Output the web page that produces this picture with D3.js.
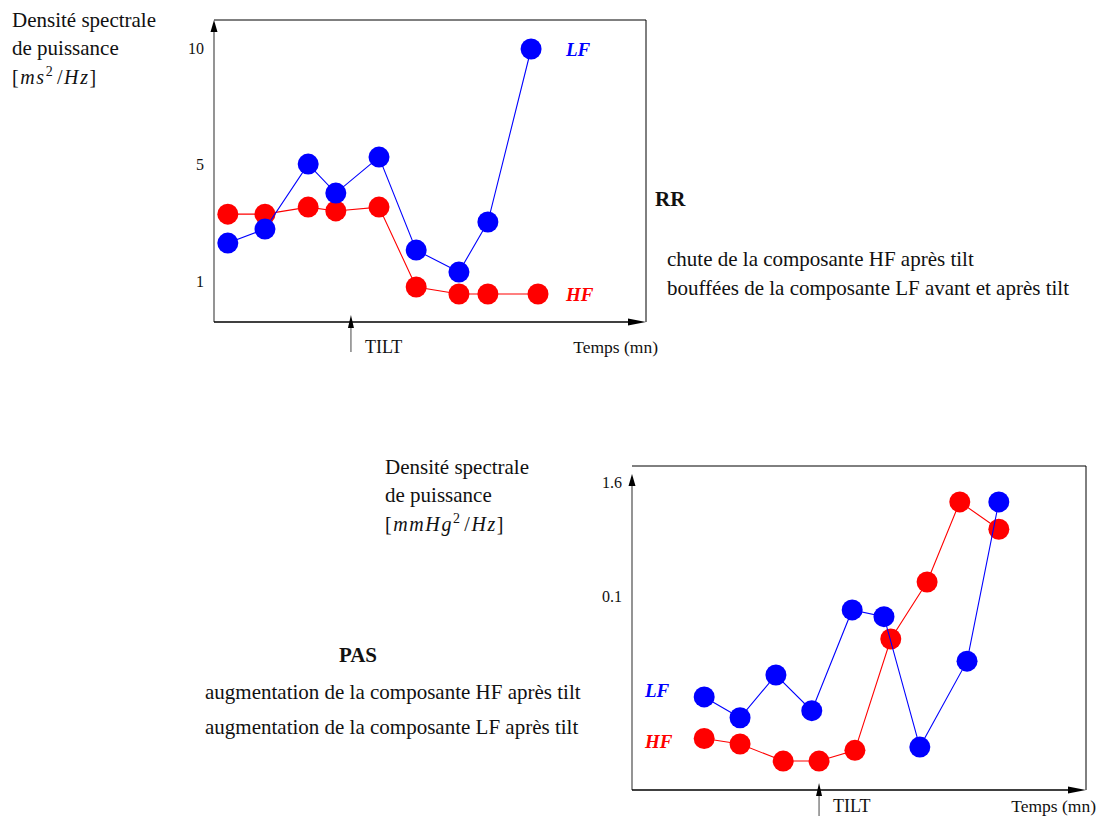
<!DOCTYPE html>
<meta charset="utf-8">
<html>
<head>
<title>Densite spectrale RR / PAS</title>
<script src="https://cdn.jsdelivr.net/npm/d3@7/dist/d3.min.js"></script>
<style>
body { margin: 0; background: #fff; }
svg text { font-family: "Liberation Serif", "DejaVu Serif", serif; fill: #111; }
</style>
</head>
<body>
<div id="chart"></div>
<script>
// RR panel (top)
var rrTimeLF = [3.2, 11.8, 21.8, 28.2, 38.2, 46.8, 56.7, 63.4, 73.4];
var rrLF     = [2.33, 2.81, 5.04, 4.04, 5.34, 2.09, 1.34, 3.05, 10];
var rrTimeHF = [3.2, 11.8, 21.8, 28.2, 38.2, 46.8, 56.7, 63.4, 75.0];
var rrHF     = [3.32, 3.32, 3.56, 3.43, 3.56, 0.83, 0.59, 0.59, 0.59];
var rrTicks  = [1, 5, 10];
var rrTilt   = 31.7;

// PAS panel (bottom)
var pasTimeLF = [15.9, 23.8, 31.7, 39.6, 48.5, 55.5, 63.4, 73.8, 80.8];
var pasLF     = [0.0088, 0.0053, 0.0150, 0.0063, 0.073, 0.062, 0.0026, 0.021, 1.01];
var pasTimeHF = [15.9, 23.8, 33.3, 41.2, 49.1, 57.0, 65.0, 72.2, 80.8];
var pasHF     = [0.0032, 0.0028, 0.00185, 0.00185, 0.0024, 0.036, 0.144, 1.01, 0.52];
var pasTicks  = [0.1, 1.6];
var pasTilt   = 41.2;

var svg = d3.select("#chart").append("svg")
    .attr("width", 1099).attr("height", 816);

var BLUE = "#0000ff", RED = "#ff0000";

function zip(t, v) { return t.map(function (d, i) { return {t: d, v: v[i]}; }); }

function panel(cfg) {
  var g = svg.append("g");
  var x = d3.scaleLinear().domain([0, 100]).range([cfg.left, cfg.right]);
  var y = cfg.y;

  // frame
  g.append("path")
    .attr("d", "M" + cfg.left + "," + cfg.top + "H" + cfg.right + "V" + cfg.bottom)
    .attr("fill", "none").attr("stroke", "#000").attr("stroke-width", 1);
  // axes
  g.append("line").attr("x1", cfg.left).attr("x2", cfg.left)
    .attr("y1", cfg.bottom).attr("y2", cfg.arrowTop + 8)
    .attr("stroke", "#666").attr("stroke-width", 1.4);
  g.append("line").attr("x1", cfg.left).attr("x2", cfg.right - 8)
    .attr("y1", cfg.bottom).attr("y2", cfg.bottom)
    .attr("stroke", "#000").attr("stroke-width", 1.4);
  g.append("path")
    .attr("d", "M" + cfg.left + "," + cfg.arrowTop + "l-3.5,12h7z").attr("fill", "#000");
  g.append("path")
    .attr("d", "M" + cfg.right + "," + cfg.bottom + "l-18,-3.5v7z").attr("fill", "#000");

  // tick labels
  g.selectAll(".tick").data(cfg.ticks).enter().append("text")
    .attr("x", cfg.left - 10).attr("y", function (d) { return y(d) + 5; })
    .attr("text-anchor", "end").style("font-size", "16px")
    .text(function (d) { return d; });

  // tilt arrow
  var tx = x(cfg.tilt);
  g.append("line").attr("x1", tx).attr("x2", tx)
    .attr("y1", cfg.bottom + cfg.arrowLen).attr("y2", cfg.bottom + 4)
    .attr("stroke", "#666").attr("stroke-width", 1.2);
  g.append("path").attr("d", "M" + tx + "," + (cfg.bottom - 7) + "l-3,13h6z").attr("fill", "#000");
  g.append("text").attr("x", tx + 14).attr("y", cfg.bottom + cfg.textDy)
    .style("font-size", "18px").text("TILT");
  g.append("text").attr("x", cfg.right + cfg.tempsDx).attr("y", cfg.bottom + cfg.textDy)
    .attr("text-anchor", "end").style("font-size", "17.5px").text("Temps (mn)");

  var line = d3.line().x(function (d) { return x(d.t); }).y(function (d) { return y(d.v); });
  var series = {
    LF: {data: zip(cfg.tLF, cfg.LF), color: BLUE},
    HF: {data: zip(cfg.tHF, cfg.HF), color: RED}
  };
  cfg.order.forEach(function (o) {
    var s = series[o.s];
    if (o.kind === "line") {
      g.append("path").datum(s.data).attr("d", line)
        .attr("fill", "none").attr("stroke", s.color).attr("stroke-width", 1.1);
    } else {
      g.selectAll(null).data(s.data).enter().append("circle")
        .attr("cx", function (d) { return x(d.t); })
        .attr("cy", function (d) { return y(d.v); })
        .attr("r", 10.5).attr("fill", s.color);
    }
  });

  cfg.labels.forEach(function (l) {
    g.append("text").attr("x", l.x).attr("y", l.y)
      .style("font-size", "19px").style("font-weight", "bold").style("font-style", "italic")
      .style("fill", l.s === "LF" ? BLUE : RED).text(l.s);
  });
  return g;
}

panel({
  left: 214, right: 646, top: 20, bottom: 322, arrowTop: 20,
  arrowLen: 30, textDy: 31, tempsDx: 12,
  y: d3.scaleLinear().domain([1, 5, 10]).range([282, 165, 49]),
  ticks: rrTicks, tilt: rrTilt,
  tLF: rrTimeLF, LF: rrLF, tHF: rrTimeHF, HF: rrHF,
  order: [{s: "HF", kind: "line"}, {s: "HF", kind: "dot"}, {s: "LF", kind: "line"}, {s: "LF", kind: "dot"}],
  labels: [{s: "LF", x: 566, y: 56}, {s: "HF", x: 566, y: 301}]
});

panel({
  left: 632, right: 1086, top: 466, bottom: 790, arrowTop: 474,
  arrowLen: 30, textDy: 22, tempsDx: 10,
  y: d3.scaleLog().domain([0.1, 1.6]).range([597, 483]),
  ticks: pasTicks, tilt: pasTilt,
  tLF: pasTimeLF, LF: pasLF, tHF: pasTimeHF, HF: pasHF,
  order: [{s: "LF", kind: "dot"}, {s: "HF", kind: "line"}, {s: "HF", kind: "dot"}, {s: "LF", kind: "line"}],
  labels: [{s: "LF", x: 645, y: 697}, {s: "HF", x: 645, y: 748}]
});

// y-axis titles
function yTitle(x0, y0, unit) {
  var t = svg.append("g").style("font-size", "21px");
  t.append("text").attr("x", x0).attr("y", y0).text("Densité spectrale");
  t.append("text").attr("x", x0).attr("y", y0 + 28).text("de puissance");
  var m = t.append("text").attr("x", x0).attr("y", y0 + 57)
    .style("font-size", "20px").style("letter-spacing", "1.6px");
  m.append("tspan").text("[");
  unit.forEach(function (u) {
    if (u.sup) {
      m.append("tspan").attr("dy", -8).style("font-size", "14px").text(u.sup);
      m.append("tspan").attr("dy", 8).text(" ").style("font-size", "4px");
    } else {
      m.append("tspan").style("font-style", u.it ? "italic" : "normal").text(u.txt);
    }
  });
  m.append("tspan").text("]");
}
yTitle(12, 27, [{txt: "ms", it: true}, {sup: "2"}, {txt: "/", it: false}, {txt: "Hz", it: true}]);
yTitle(385, 474, [{txt: "mmHg", it: true}, {sup: "2"}, {txt: "/", it: false}, {txt: "Hz", it: true}]);

// comments
svg.append("text").attr("x", 655).attr("y", 206)
  .style("font-size", "21px").style("font-weight", "bold").text("RR");
svg.append("text").attr("x", 667).attr("y", 266).style("font-size", "21px")
  .text("chute de la composante HF après tilt");
svg.append("text").attr("x", 667).attr("y", 295).style("font-size", "21px")
  .text("bouffées de la composante LF avant et après tilt");

svg.append("text").attr("x", 358).attr("y", 662).attr("text-anchor", "middle")
  .style("font-size", "21px").style("font-weight", "bold").text("PAS");
svg.append("text").attr("x", 205).attr("y", 699).style("font-size", "21px")
  .text("augmentation de la composante HF après tilt");
svg.append("text").attr("x", 205).attr("y", 734).style("font-size", "21px")
  .text("augmentation de la composante LF après tilt");
</script>
</body>
</html>
